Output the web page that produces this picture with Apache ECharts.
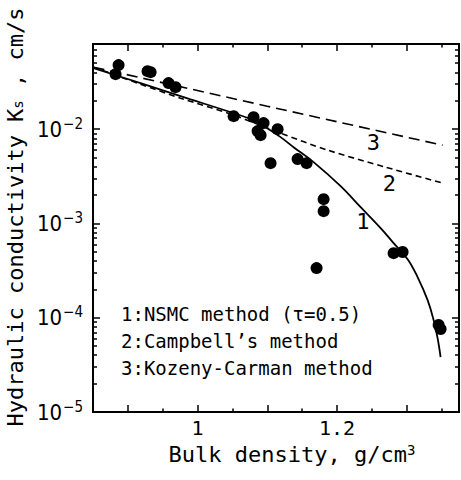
<!DOCTYPE html>
<html>
<head>
<meta charset="utf-8">
<script src="https://cdn.jsdelivr.net/npm/echarts@6/dist/echarts.min.js"></script>
<style>
  html, body { margin: 0; padding: 0; background: #fff; }
  #chart { width: 461px; height: 480px; }
</style>
</head>
<body>
<div id="chart"></div>
<script>
// Measured saturated hydraulic conductivity against bulk density
const obsDensity = [0.8867, 0.8824, 0.9283, 0.9326, 0.9584, 0.9684, 1.0517, 1.0803, 1.0947, 1.0861, 1.0904,
                    1.1148, 1.1047, 1.1435, 1.1564, 1.1808, 1.1808, 1.1707, 1.2812, 1.2941, 1.3458, 1.3486];
const obsKs = [0.0478, 0.0383, 0.0412, 0.0402, 0.0308, 0.0279, 0.01374, 0.01340, 0.01159, 0.00953, 0.00864,
               0.0100, 0.00436, 0.00481, 0.00436, 0.00181, 0.00135, 0.000336, 0.000484, 0.000497, 0.0000836, 0.0000757];

// Curve 1: NSMC method (tau = 0.5)
const nsmcDensity = [0.8508, 0.9182, 0.9756, 1.0517, 1.0760, 1.0976, 1.1191, 1.1377, 1.1664, 1.2052,
                     1.2339, 1.2626, 1.2812, 1.3013, 1.3156, 1.3300, 1.3386, 1.3443, 1.3486];
const nsmcKs = [0.04435, 0.03075, 0.02238, 0.01478, 0.01276, 0.01050, 0.00823, 0.00644, 0.00447, 0.002486,
                0.001489, 0.000892, 0.000618, 0.000418, 0.000270, 0.0001537, 0.0000943, 0.0000608, 0.0000382];

// Curve 2: Campbell's method
const campbellDensity = [0.8508, 0.9182, 0.9756, 1.0517, 1.1191, 1.1865, 1.2697, 1.3515];
const campbellKs = [0.04545, 0.0300, 0.02131, 0.01408, 0.00907, 0.00599, 0.003954, 0.002676];

// Curve 3: Kozeny-Carman method
const kozenyDensity = [0.8508, 1.1, 1.3515];
const kozenyKs = [0.0454, 0.0175, 0.00676];

// Curve number tags
const tagText = ['1', '2', '3'];
const tagDensity = [1.237, 1.275, 1.252];
const tagKs = [0.00105, 0.00262, 0.0073];

// Axis ranges and ticks
const X_MIN = 0.85, X_MAX = 1.375;
const Y_MIN = 1e-5, Y_MAX = 0.08;
const xMajorTicks = [0.9, 1.0, 1.1, 1.2, 1.3];
const xMinorTicks = [0.95, 1.05, 1.15, 1.25, 1.35];
const xTickLabels = ['1', '1.2'];
const xTickLabelValues = [1.0, 1.2];
const yDecades = [1e-5, 1e-4, 1e-3, 1e-2];
const yMinorSteps = [2, 3, 4, 5, 6, 7, 8, 9];
const yMinorTicks = [];
yDecades.forEach(d => yMinorSteps.forEach(k => { if (k * d < Y_MAX * 0.999) yMinorTicks.push(k * d); }));

const legendLines = ['1:NSMC method (\u03c4=0.5)', '2:Campbell\u2019s method', '3:Kozeny-Carman method'];

const MONO = "'DejaVu Sans Mono', monospace";
const NARROW = "'Liberation Sans Narrow', 'DejaVu Sans Condensed', 'DejaVu Sans Mono', sans-serif";

const zip = (xs, ys) => xs.map((x, i) => [x, ys[i]]);

// Extra axes that only carry inward tick marks (frame sides and minor ticks)
const tickOnlyX = (position, values, len) => ({
  type: 'value', min: X_MIN, max: X_MAX, position: position,
  axisLine: { show: false }, splitLine: { show: false },
  axisLabel: { show: false },
  axisTick: { show: true, inside: true, length: len, customValues: values, lineStyle: { color: '#000', width: 1.5 } }
});
const tickOnlyY = (position, values, len) => ({
  type: 'log', min: Y_MIN, max: Y_MAX, position: position,
  axisLine: { show: false }, splitLine: { show: false },
  axisLabel: { show: false },
  axisTick: { show: true, inside: true, length: len, customValues: values, lineStyle: { color: '#000', width: 1.5 } }
});

const chart = echarts.init(document.getElementById('chart'), null, { renderer: 'svg' });

const option = {
  animation: false,
  grid: {
    left: 93, right: 2, top: 44, bottom: 68,
    outerBoundsMode: 'none', containLabel: false,
    show: true, borderColor: '#000', borderWidth: 2
  },
  xAxis: [
    {
      type: 'value', min: X_MIN, max: X_MAX, position: 'bottom',
      axisLine: { show: false }, splitLine: { show: false },
      axisTick: { show: true, inside: true, length: 7, customValues: xMajorTicks, lineStyle: { color: '#000', width: 1.5 } },
      axisLabel: {
        margin: 6, color: '#000', fontFamily: MONO, fontSize: 20,
        customValues: xTickLabelValues,
        formatter: v => {
          const i = xTickLabelValues.findIndex(t => Math.abs(t - v) < 1e-6);
          return i >= 0 ? xTickLabels[i] : '';
        }
      },
      name: '{a|Bulk density, g/cm}{s|3}',
      nameLocation: 'middle', nameGap: 30,
      nameTextStyle: {
        padding: [0, 0, 0, 32],
        rich: {
          a: { fontFamily: MONO, fontSize: 22, color: '#000' },
          s: { fontFamily: MONO, fontSize: 14, color: '#000', padding: [0, 0, 10, 0] }
        }
      }
    },
    tickOnlyX('bottom', xMinorTicks, 3.5),
    tickOnlyX('top', xMajorTicks, 7),
    tickOnlyX('top', xMinorTicks, 3.5)
  ],
  yAxis: [
    {
      type: 'log', min: Y_MIN, max: Y_MAX, position: 'left',
      axisLine: { show: false }, splitLine: { show: false },
      axisTick: { show: true, inside: true, length: 7, customValues: yDecades, lineStyle: { color: '#000', width: 1.5 } },
      axisLabel: {
        margin: 10,
        customValues: yDecades,
        formatter: v => {
          const e = Math.log10(v);
          const n = Math.round(e);
          if (Math.abs(e - n) > 1e-6) return '';
          return '{b|10}{s|\u2212' + Math.abs(n) + '}';
        },
        rich: {
          b: { fontFamily: NARROW, fontSize: 22, color: '#000' },
          s: { fontFamily: NARROW, fontSize: 15, color: '#000', padding: [0, 0, 11, 1] }
        }
      },
      name: '{a|Hydraulic conductivity K}{s|s}{a| , cm/s}',
      nameLocation: 'middle', nameGap: 57,
      nameTextStyle: {
        padding: [0, 0, 0, 22],
        rich: {
          a: { fontFamily: MONO, fontSize: 22, color: '#000' },
          s: { fontFamily: MONO, fontSize: 14, color: '#000', padding: [6, 0, 0, 0] }
        }
      }
    },
    tickOnlyY('left', yMinorTicks, 4),
    tickOnlyY('right', yDecades, 7),
    tickOnlyY('right', yMinorTicks, 4)
  ],
  graphic: legendLines.map((t, i) => ({
    type: 'text', left: 121, top: 304 + i * 27,
    style: { text: t, font: '19px ' + MONO, fill: '#000' }
  })),
  series: [
    {
      name: 'Kozeny-Carman', type: 'line', data: zip(kozenyDensity, kozenyKs),
      showSymbol: false, silent: true, clip: false,
      lineStyle: { color: '#000', width: 1.6, type: [11, 6] }
    },
    {
      name: 'Campbell', type: 'line', data: zip(campbellDensity, campbellKs),
      showSymbol: false, silent: true, smooth: 0.3, clip: false,
      lineStyle: { color: '#000', width: 1.6, type: [6, 4] }
    },
    {
      name: 'NSMC', type: 'line', data: zip(nsmcDensity, nsmcKs),
      showSymbol: false, silent: true, smooth: 0.4, clip: false,
      lineStyle: { color: '#000', width: 1.8 }
    },
    {
      name: 'Measured', type: 'scatter', data: zip(obsDensity, obsKs),
      symbol: 'circle', symbolSize: 12, silent: true,
      itemStyle: { color: '#000', opacity: 1 }
    },
    {
      name: 'Curve tags', type: 'scatter', data: zip(tagDensity, tagKs),
      symbolSize: 0, silent: true,
      itemStyle: { opacity: 1 },
      label: {
        show: true, position: 'inside', color: '#000', fontFamily: MONO, fontSize: 22,
        formatter: p => tagText[p.dataIndex]
      }
    }
  ]
};

chart.setOption(option);
</script>
</body>
</html>
